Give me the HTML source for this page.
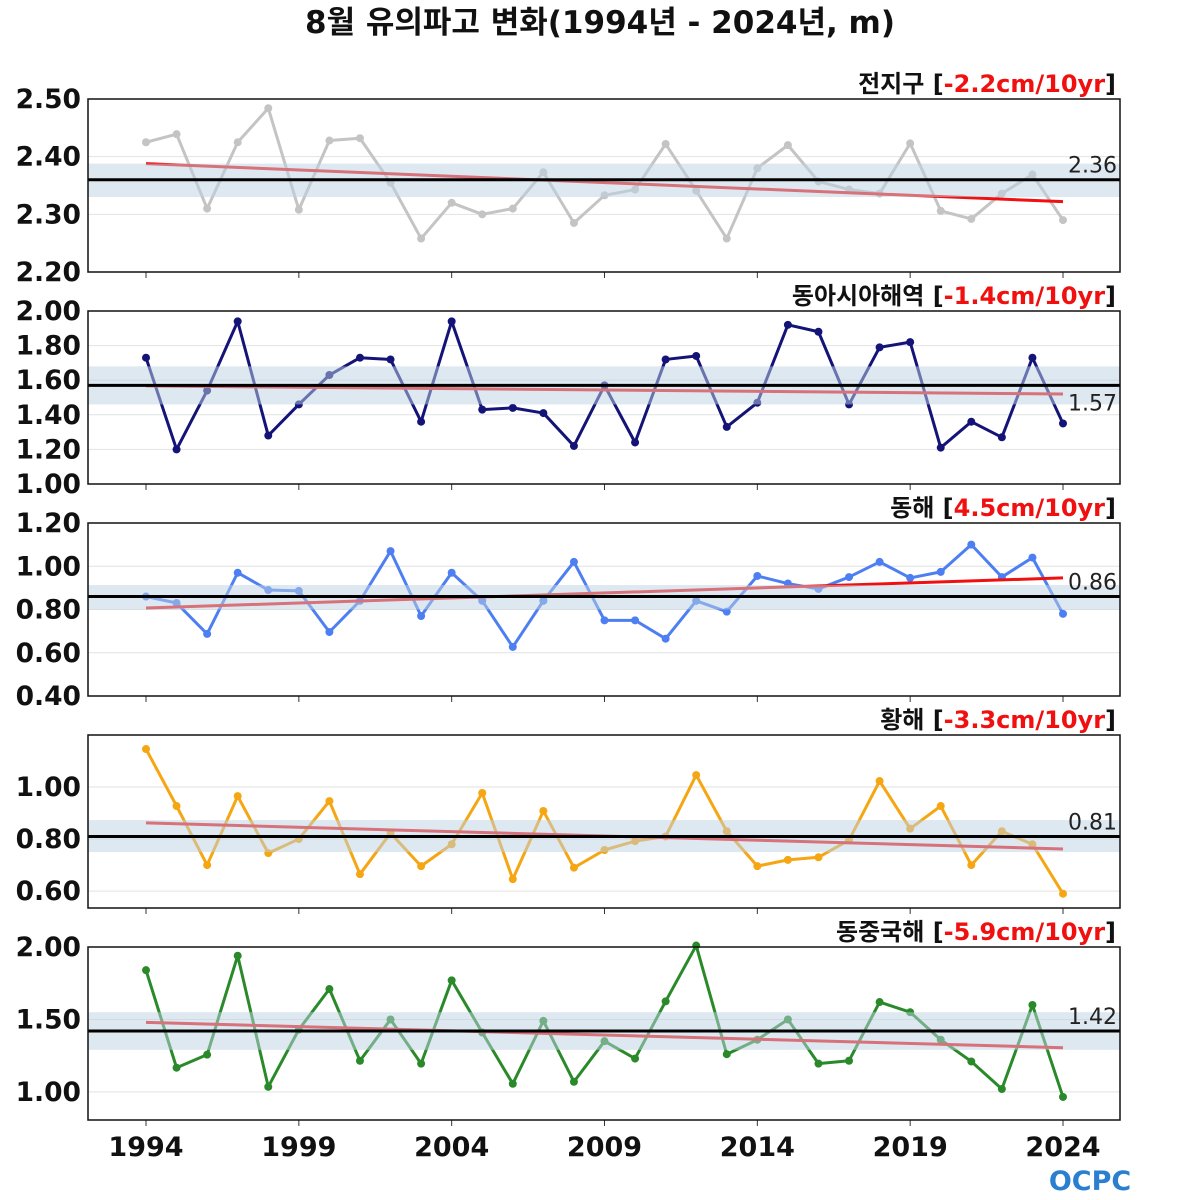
<!DOCTYPE html>
<html><head><meta charset="utf-8">
<style>
html,body{margin:0;padding:0;background:#fff;}
svg{display:block;font-family:"DejaVu Sans","Noto Sans CJK KR",sans-serif;}
</style></head>
<body>
<svg id="chart" width="1200" height="1200" viewBox="0 0 1200 1200" xmlns="http://www.w3.org/2000/svg">
<text x="600" y="33" text-anchor="middle" font-size="31" font-weight="bold" fill="#111">8월 유의파고 변화(1994년 - 2024년, m)</text>
<g id="panels"></g>
<text x="1090" y="1190" text-anchor="middle" font-size="27" font-weight="bold" fill="#2a7fd0">OCPC</text>
</svg>
<script>
const years = [];
for (let y = 1994; y <= 2024; y++) years.push(y);
const xTickYears = [1994, 1999, 2004, 2009, 2014, 2019, 2024];

const globalValues = [2.425,2.439,2.31,2.425,2.484,2.308,2.428,2.432,2.355,2.258,2.32,2.30,2.31,2.373,2.285,2.333,2.343,2.422,2.341,2.258,2.38,2.42,2.357,2.343,2.336,2.423,2.306,2.292,2.336,2.369,2.29];
const eastAsiaValues = [1.73,1.20,1.54,1.94,1.28,1.46,1.63,1.73,1.72,1.36,1.94,1.43,1.44,1.41,1.22,1.57,1.24,1.72,1.74,1.33,1.47,1.92,1.88,1.46,1.79,1.82,1.21,1.36,1.27,1.73,1.35];
const eastSeaValues = [0.86,0.83,0.687,0.97,0.89,0.886,0.696,0.84,1.07,0.77,0.97,0.84,0.627,0.84,1.02,0.75,0.75,0.665,0.84,0.79,0.955,0.92,0.895,0.95,1.02,0.946,0.974,1.10,0.95,1.04,0.78];
const yellowSeaValues = [1.146,0.927,0.70,0.965,0.746,0.80,0.946,0.665,0.823,0.696,0.78,0.977,0.646,0.908,0.69,0.758,0.792,0.81,1.046,0.83,0.696,0.72,0.73,0.796,1.023,0.84,0.927,0.70,0.83,0.78,0.59];
const eastChinaSeaValues = [1.84,1.167,1.257,1.94,1.035,1.43,1.71,1.215,1.50,1.195,1.77,1.41,1.056,1.49,1.07,1.35,1.23,1.625,2.01,1.26,1.36,1.50,1.195,1.215,1.62,1.55,1.36,1.21,1.02,1.60,0.965];

const panelNames = ["전지구","동아시아해역","동해","황해","동중국해"];
const trendLabels = ["-2.2cm/10yr","-1.4cm/10yr","4.5cm/10yr","-3.3cm/10yr","-5.9cm/10yr"];
const means = [2.36,1.57,0.86,0.81,1.42];
const bandLow = [2.33,1.46,0.80,0.75,1.29];
const bandHigh = [2.388,1.68,0.913,0.873,1.55];
const trendStart = [2.388,1.567,0.807,0.862,1.48];
const trendEnd = [2.322,1.52,0.946,0.762,1.305];
const yMin = [2.20,1.00,0.40,0.535,0.806];
const yMax = [2.50,2.00,1.20,1.20,2.00];
const yTicks = [[2.20,2.30,2.40,2.50],[1.00,1.20,1.40,1.60,1.80,2.00],[0.40,0.60,0.80,1.00,1.20],[0.60,0.80,1.00],[1.00,1.50,2.00]];
const seriesValues = [globalValues,eastAsiaValues,eastSeaValues,yellowSeaValues,eastChinaSeaValues];
const colors = ["#c4c4c4","#141478","#4d7ff2","#f5a612","#2a8a2a"];
const slugs = ["global","east-asia","east-sea","yellow-sea","east-china-sea"];
const meanBelow = [false,true,false,false,false];

const NS = "http://www.w3.org/2000/svg";
const root = document.getElementById("panels");
const L = 88, R = 1120, H = 173;
const tops = [99,311,523,735,947];
const x = yr => 146 + (yr - 1994) * (1063 - 146) / 30;
function mk(tag, attrs, parent) {
  const e = document.createElementNS(NS, tag);
  for (const k in attrs) e.setAttribute(k, attrs[k]);
  parent.appendChild(e);
  return e;
}

for (let p = 0; p < 5; p++) {
  const top = tops[p], bot = top + H;
  const y = v => bot - (v - yMin[p]) / (yMax[p] - yMin[p]) * H;
  const g = mk("g", {}, root);
  
  
  yTicks[p].forEach(t => {
    const gl = mk("line", {x1:L, x2:R, y1:y(t), y2:y(t), stroke:"#e2e2e2", "stroke-width":1}, g);
    
    
    const tl = mk("text", {x:81, y:y(t)+9, "text-anchor":"end", "font-size":26.5, "font-weight":"bold", fill:"#111"}, g);
    tl.textContent = t.toFixed(2);
    
    
  });
  xTickYears.forEach(yr => {
    const tk = mk("line", {x1:x(yr), x2:x(yr), y1:bot, y2:bot+6, stroke:"#333", "stroke-width":1}, g);
    
    
  });
  const vals = seriesValues[p];
  const pts = vals.map((v, i) => x(years[i]) + "," + y(v)).join(" ");
  const line = mk("polyline", {points:pts, fill:"none", stroke:colors[p], "stroke-width":3, "stroke-linejoin":"round"}, g);
  
  
  vals.forEach((v, i) => {
    const c = mk("circle", {cx:x(years[i]), cy:y(v), r:4, fill:colors[p]}, g);
    
    
  });
  const tr = mk("line", {x1:x(1994), y1:y(trendStart[p]), x2:x(2024), y2:y(trendEnd[p]), stroke:"#f01010", "stroke-width":3}, g);
  
  
  const band = mk("rect", {x:L, width:R-L, y:y(bandHigh[p]), height:y(bandLow[p])-y(bandHigh[p]), fill:"rgba(190,210,228,0.5)"}, g);
  
  
  const ml = mk("line", {x1:L, x2:R, y1:y(means[p]), y2:y(means[p]), stroke:"#000", "stroke-width":3}, g);
  
  
  const mt = mk("text", {x:1117, y:meanBelow[p] ? y(means[p])+25 : y(means[p])-7, "text-anchor":"end", "font-size":22, fill:"#222"}, g);
  mt.textContent = means[p].toFixed(2);
  
  
  const fr = mk("rect", {x:L, y:top, width:R-L, height:H, fill:"none", stroke:"#111", "stroke-width":1.5}, g);
  
  
  const title = mk("text", {x:1116, y:top-7, "text-anchor":"end", "font-size":24, "font-weight":"bold", fill:"#111"}, g);
  
  
  const s1 = mk("tspan", {}, title); s1.textContent = panelNames[p] + " [";
  const s2 = mk("tspan", {fill:"#f01010"}, title); s2.textContent = trendLabels[p];
  const s3 = mk("tspan", {}, title); s3.textContent = "]";
}
xTickYears.forEach(yr => {
  const t = mk("text", {x:x(yr), y:1156, "text-anchor":"middle", "font-size":27, "font-weight":"bold", fill:"#111"}, root);
  t.textContent = yr;
  
  
});
</script>
</body></html>
